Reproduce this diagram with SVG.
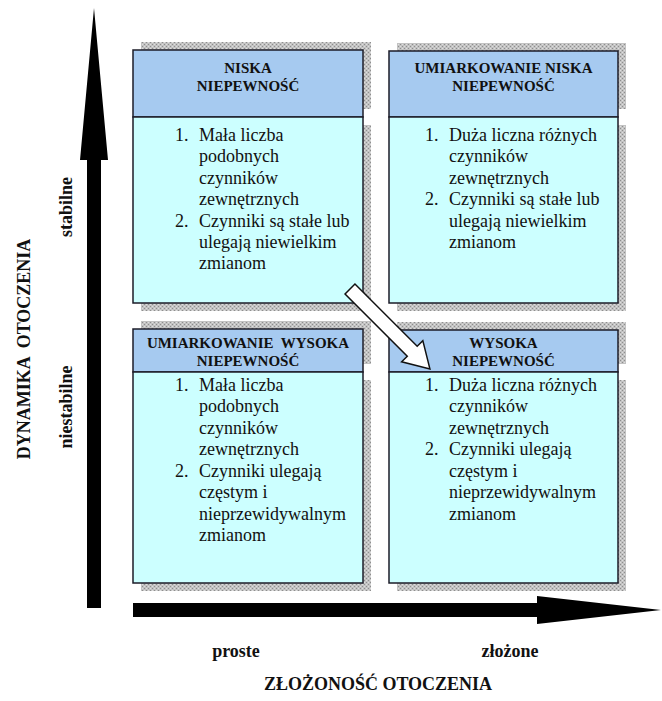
<svg xmlns="http://www.w3.org/2000/svg" width="662" height="701" viewBox="0 0 662 701">
<defs>
<pattern id="dither" width="4" height="4" patternUnits="userSpaceOnUse">
<rect width="4" height="4" fill="#c2c2c2"/>
<rect x="0" y="0" width="1" height="1" fill="#8e8e8e"/>
<rect x="2" y="2" width="1" height="1" fill="#8e8e8e"/>
<rect x="2" y="0" width="1" height="1" fill="#dedede"/>
<rect x="0" y="2" width="1" height="1" fill="#dedede"/>
</pattern>
<style>
.sh{fill:url(#dither);}
.hd{fill:#a6caf0;stroke:#1c1c28;stroke-width:1.5;}
.bd{fill:#ccffff;stroke:#1c1c28;stroke-width:1.5;}
.ht{font-family:"Liberation Serif","Times New Roman",serif;font-weight:bold;font-size:15px;fill:#111;text-anchor:middle;}
.bt{font-family:"Liberation Serif","Times New Roman",serif;font-size:18px;fill:#111;}
.ax{font-family:"Liberation Serif","Times New Roman",serif;font-weight:bold;font-size:18px;fill:#111;}
</style>
</defs>
<rect width="662" height="701" fill="#ffffff"/>

<g id="axes">
<polygon points="87,608 87,160 80,160 94,8 108,160 101,160 101,608" fill="#000"/>
<polygon points="133,603 537,603 537,596 661,610 537,624 537,617 133,617" fill="#000"/>
</g>

<g id="box-tl">
<rect class="sh" x="141" y="42" width="230" height="67"/>
<rect class="sh" x="141" y="125" width="230" height="186"/>
<rect class="hd" x="133" y="50" width="230" height="67"/>
<rect class="bd" x="133" y="117" width="230" height="186"/>
<text class="ht" x="248" y="73">NISKA</text>
<text class="ht" x="248" y="91">NIEPEWNOŚĆ</text>
<text class="bt" x="175" y="141">1.</text>
<text class="bt" x="199" y="141">Mała liczba</text>
<text class="bt" x="199" y="162">podobnych</text>
<text class="bt" x="199" y="184">czynników</text>
<text class="bt" x="199" y="205">zewnętrznych</text>
<text class="bt" x="175" y="227">2.</text>
<text class="bt" x="199" y="227">Czynniki są stałe lub</text>
<text class="bt" x="199" y="248">ulegają niewielkim</text>
<text class="bt" x="199" y="269">zmianom</text>
</g>

<g id="box-tr">
<rect class="sh" x="397" y="43" width="229" height="66"/>
<rect class="sh" x="397" y="125" width="229" height="186"/>
<rect class="hd" x="389" y="51" width="229" height="66"/>
<rect class="bd" x="389" y="117" width="229" height="186"/>
<text class="ht" x="503.5" y="73">UMIARKOWANIE NISKA</text>
<text class="ht" x="503.5" y="91">NIEPEWNOŚĆ</text>
<text class="bt" x="425" y="141">1.</text>
<text class="bt" x="449" y="141">Duża liczna różnych</text>
<text class="bt" x="449" y="162">czynników</text>
<text class="bt" x="449" y="184">zewnętrznych</text>
<text class="bt" x="425" y="205">2.</text>
<text class="bt" x="449" y="205">Czynniki są stałe lub</text>
<text class="bt" x="449" y="227">ulegają niewielkim</text>
<text class="bt" x="449" y="248">zmianom</text>
</g>

<g id="box-bl">
<rect class="sh" x="141" y="321" width="230" height="43"/>
<rect class="sh" x="141" y="380" width="230" height="211"/>
<rect class="hd" x="133" y="329" width="230" height="43"/>
<rect class="bd" x="133" y="372" width="230" height="211"/>
<text class="ht" x="248" y="348" xml:space="preserve">UMIARKOWANIE  WYSOKA</text>
<text class="ht" x="248" y="366">NIEPEWNOŚĆ</text>
<text class="bt" x="175" y="391">1.</text>
<text class="bt" x="199" y="391">Mała liczba</text>
<text class="bt" x="199" y="412">podobnych</text>
<text class="bt" x="199" y="434">czynników</text>
<text class="bt" x="199" y="455">zewnętrznych</text>
<text class="bt" x="175" y="477">2.</text>
<text class="bt" x="199" y="477">Czynniki ulegają</text>
<text class="bt" x="199" y="498">częstym i</text>
<text class="bt" x="199" y="520">nieprzewidywalnym</text>
<text class="bt" x="199" y="541">zmianom</text>
</g>

<g id="box-br">
<rect class="sh" x="397" y="322" width="229" height="42"/>
<rect class="sh" x="397" y="380" width="229" height="211"/>
<rect class="hd" x="389" y="330" width="229" height="42"/>
<rect class="bd" x="389" y="372" width="229" height="211"/>
<text class="ht" x="503.5" y="348">WYSOKA</text>
<text class="ht" x="503.5" y="366">NIEPEWNOŚĆ</text>
<text class="bt" x="425" y="391">1.</text>
<text class="bt" x="449" y="391">Duża liczna różnych</text>
<text class="bt" x="449" y="412">czynników</text>
<text class="bt" x="449" y="434">zewnętrznych</text>
<text class="bt" x="425" y="455">2.</text>
<text class="bt" x="449" y="455">Czynniki ulegają</text>
<text class="bt" x="449" y="477">częstym i</text>
<text class="bt" x="449" y="498">nieprzewidywalnym</text>
<text class="bt" x="449" y="520">zmianom</text>
</g>

<g id="connectors">
<polygon points="0,-7 88,-7 88,-15 113,0 88,15 88,7 0,7" transform="translate(350,289) rotate(45)" fill="#ffffff" stroke="#111" stroke-width="1.5" stroke-linejoin="miter"/>
</g>

<g id="labels">
<text class="ax" transform="translate(30,349) rotate(-90)" text-anchor="middle" xml:space="preserve">DYNAMIKA  OTOCZENIA</text>
<text class="ax" transform="translate(72,207) rotate(-90)" text-anchor="middle">stabilne</text>
<text class="ax" transform="translate(72,407) rotate(-90)" text-anchor="middle">niestabilne</text>
<text class="ax" x="236" y="657" text-anchor="middle">proste</text>
<text class="ax" x="510" y="657" text-anchor="middle">złożone</text>
<text class="ax" x="378" y="690" text-anchor="middle">ZŁOŻONOŚĆ OTOCZENIA</text>
</g>
</svg>
